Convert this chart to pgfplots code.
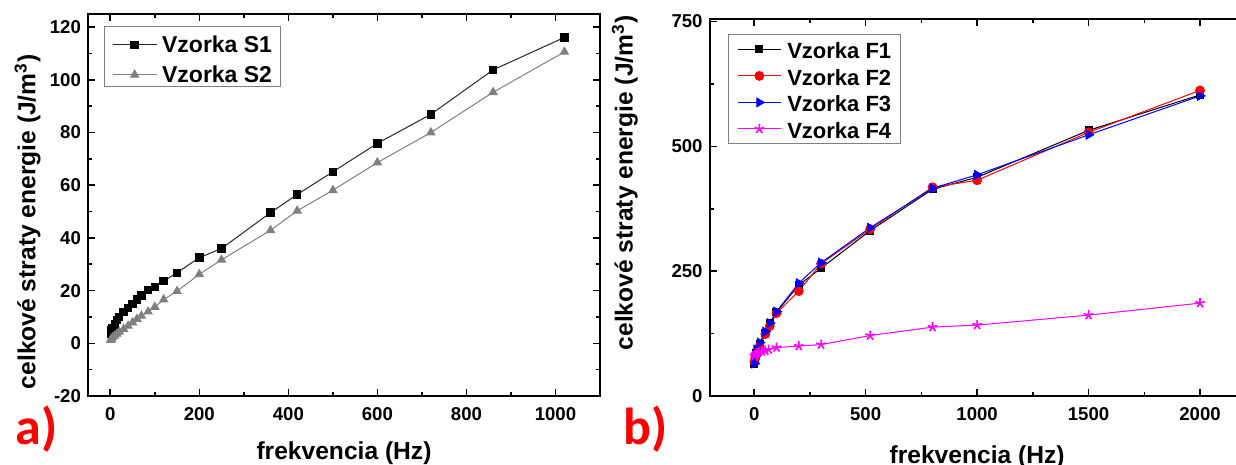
\documentclass[border=0pt]{standalone}
\usepackage{fontspec}
\setmainfont{Liberation Sans}
\newfontfamily\panelfont{Carlito}
\usepackage{pgfplots}
\pgfplotsset{compat=1.18}

\definecolor{sgray}{RGB}{128,128,128}
\definecolor{sdark}{RGB}{40,40,40}
\definecolor{fred}{RGB}{255,0,0}
\definecolor{fblue}{RGB}{0,0,255}
\definecolor{fmag}{RGB}{255,0,255}

\pgfplotsset{
  panel/.style={
    scale only axis,
    axis line style={line width=1pt},
    every tick/.style={line width=0.8pt, black},
    major tick length=3.5pt,
    minor tick length=2pt,
    minor tick num=1,
    tick align=inside,
    ticklabel style={font=\fontsize{9.3}{11}\selectfont\bfseries},
    xticklabel style={yshift=-2pt},
    /pgf/number format/assume math mode=true,
    /pgf/number format/1000 sep={},
    label style={font=\fontsize{12.3}{14}\selectfont\bfseries},
    legend cell align=left,
  },
}

\begin{document}
\begin{tikzpicture}
\useasboundingbox (0,0) rectangle (618pt,232.5pt);

% panel a: samples S1 and S2
\begin{axis}[panel,
  at={(44pt,34.5pt)}, anchor=south west,
  width=256pt, height=191pt,
  xmin=-50, xmax=1100, ymin=-20, ymax=125,
  xtick={0,200,...,1000}, ytick={-20,0,...,120},
  xlabel={frekvencia (Hz)},
  ylabel={celkové straty energie (J/m\textsuperscript{3})},
  xlabel style={at={(rel axis cs:0.5,-0.165)}, anchor=base},
  ylabel style={at={(rel axis cs:-0.079,0.456)}, anchor=south},
  legend image code/.code={
    \draw[mark repeat=2,mark phase=2,#1]
      plot coordinates {(2.7pt,-1.7pt) (13.7pt,-1.7pt) (24.7pt,-1.7pt)};
  },
  legend style={at={(0.0305,0.9694)}, anchor=north west,
    draw=sgray, line width=0.5pt, inner xsep=4pt, inner ysep=0.1pt,
    column sep=2.5pt,
    nodes={inner sep=0pt, text height=12.9pt, text depth=2.1pt,
      font=\fontsize{11.5}{13}\selectfont\bfseries}},
]
\addplot[sdark, line width=0.5pt, mark=square*, mark size=1.85pt,
  mark options={black, solid}] coordinates {
  (1,3.5) (2,4.8) (5,5.8) (10,7.2) (15,8.8) (20,9.9) (30,11.8) (40,13.5)
  (50,15.0) (60,16.6) (70,18.1) (85,20.3) (100,21.3) (120,23.6) (150,26.8)
  (200,32.5) (250,36.0) (360,49.6) (420,56.5) (500,65.1) (600,75.9)
  (720,86.9) (860,103.8) (1020,116.1)
};
\addlegendentry{Vzorka S1}
\addplot[sgray, line width=0.5pt, mark=triangle*, mark size=2.3pt,
  mark options={sgray, solid}] coordinates {
  (1,1.2) (2,1.6) (5,2.2) (10,2.8) (15,3.6) (20,4.4) (30,5.4) (40,6.6)
  (50,7.9) (60,9.2) (70,10.4) (85,12.0) (100,13.8) (120,16.6) (150,19.8)
  (200,26.2) (250,31.7) (360,42.9) (420,50.3) (500,58.1) (600,68.6)
  (720,80.0) (860,95.3) (1020,110.6)
};
\addlegendentry{Vzorka S2}
\end{axis}

% panel b: samples F1 to F4
\begin{axis}[panel,
  at={(354.8pt,34.5pt)}, anchor=south west,
  width=267.5pt, height=188.5pt,
  xmin=-200, xmax=2200, ymin=0, ymax=755,
  xtick={0,500,...,2000}, ytick={0,250,500,750},
  xlabel={frekvencia (Hz)},
  ylabel={celkové straty energie (J/m\textsuperscript{3})},
  xlabel style={at={(rel axis cs:0.5,-0.178)}, anchor=base},
  ylabel style={at={(rel axis cs:-0.121,0.565)}, anchor=south},
  legend image code/.code={
    \draw[mark repeat=2,mark phase=2,#1]
      plot coordinates {(0.6pt,-0.1pt) (11.35pt,-0.1pt) (22.1pt,-0.1pt)};
  },
  legend style={at={(0.0344,0.960)}, anchor=north west,
    draw=sgray, line width=0.5pt, inner xsep=4.4pt, inner ysep=0.7pt,
    column sep=3pt,
    nodes={inner sep=0pt, text height=11.3pt, text depth=1.95pt,
      font=\fontsize{11}{13}\selectfont\bfseries}},
]
\addplot[black, line width=0.5pt, mark=square*, mark size=1.75pt] coordinates {
  (1,64) (5,74) (10,86) (25,105) (50,126) (70,146) (100,168) (200,222)
  (300,256) (520,331) (800,414) (1000,438) (1500,532) (2000,603)
};
\addlegendentry{Vzorka F1}
\addplot[fred, line width=0.5pt, mark=*, mark size=2.2pt] coordinates {
  (1,69) (5,76) (10,84) (25,100) (50,124) (70,140) (100,166) (200,210)
  (300,265) (520,334) (800,418) (1000,432) (1500,528) (2000,612)
};
\addlegendentry{Vzorka F2}
\addplot[fblue, line width=0.5pt, mark=triangle*, mark size=2.5pt,
  mark options={rotate=-90}] coordinates {
  (1,65) (5,80) (10,93) (25,107) (50,129) (70,146) (100,169) (200,226)
  (300,267) (520,337) (800,416) (1000,443) (1500,523) (2000,601)
};
\addlegendentry{Vzorka F3}
\addplot[fmag, line width=0.5pt, mark=star, mark size=2.5pt,
  mark options={line width=0.8pt}] coordinates {
  (1,80) (5,83) (10,86) (20,88) (35,89) (50,91) (65,93) (100,97)
  (200,100) (300,103) (520,121) (800,138) (1000,142) (1500,162) (2000,186)
};
\addlegendentry{Vzorka F4}
\end{axis}

\node[anchor=base west, text=fred, inner sep=0pt,
  font=\panelfont\fontsize{26}{30}\selectfont\bfseries] at (7.5pt,10pt) {a)};
\node[anchor=base west, text=fred, inner sep=0pt,
  font=\panelfont\fontsize{26}{30}\selectfont\bfseries] at (311.5pt,10pt) {b)};
\end{tikzpicture}
\end{document}
